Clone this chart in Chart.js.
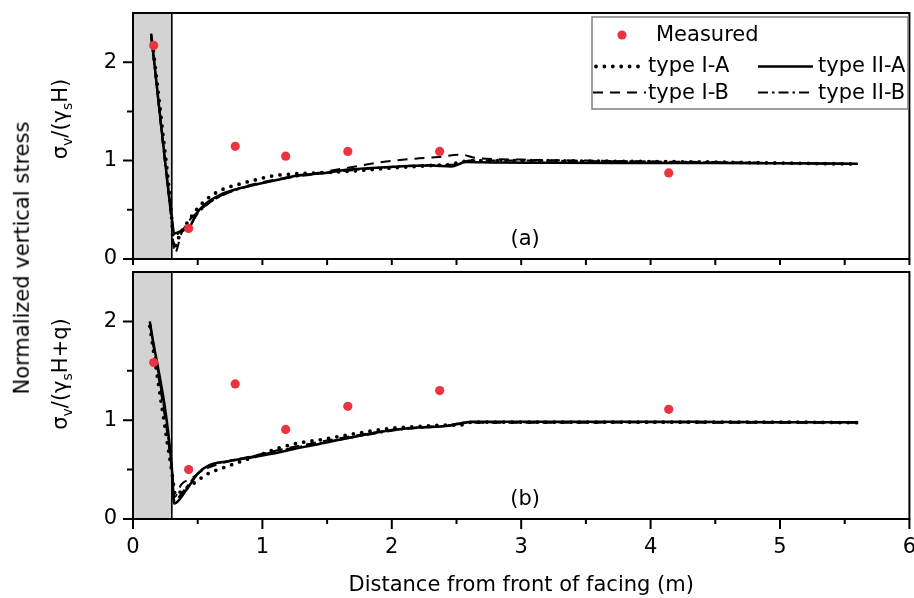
<!DOCTYPE html>
<html><head><meta charset="utf-8">
<script src="https://cdn.jsdelivr.net/npm/chart.js@4.4.1/dist/chart.umd.min.js"></script>
<style>
html,body{margin:0;padding:0;background:#fff;}
#wrap{position:relative;width:914px;height:598px;overflow:hidden;background:#fff;}
canvas{position:absolute;left:0;}
.vlab{position:absolute;white-space:nowrap;font-family:"DejaVu Sans";font-size:21px;color:#000;line-height:1.164;transform:translate(-50%,-50%) rotate(-90deg);}
.vlab sub{font-size:14px;vertical-align:baseline;position:relative;top:5px;line-height:0;}
</style></head><body>
<div id="wrap">
<canvas id="cTop" width="914" height="266" style="top:0;width:914px;height:266px"></canvas>
<canvas id="cBot" width="914" height="332" style="top:266px;width:914px;height:332px"></canvas>
<div class="vlab" style="left:21.7px;top:258px">Normalized vertical stress</div>
<div class="vlab" style="left:60px;top:119px">σ<sub>v</sub>/(γ<sub>s</sub>H)</div>
<div class="vlab" style="left:60px;top:374px">σ<sub>v</sub>/(γ<sub>s</sub>H+q)</div>
</div>
<script>
// ---------- data ----------
const xTickValues = [0, 1, 2, 3, 4, 5, 6];
const xMinorTicks = [0.5, 1.5, 2.5, 3.5, 4.5, 5.5];
const yTickValues = [0, 1, 2];
const yMinorTicks = [0.5, 1.5];
const facingZone = [0, 0.3];
const panelLabels = ['(a)', '(b)'];
const seriesNames = ['Measured', 'type I-A', 'type I-B', 'type II-A', 'type II-B'];

const measuredX = [0.16, 0.43, 0.79, 1.18, 1.66, 2.37, 4.14];
const measuredA = [2.17, 0.31, 1.145, 1.045, 1.093, 1.093, 0.875];
const measuredB = [1.584, 0.50, 1.367, 0.907, 1.14, 1.30, 1.11];

// panel (a)
const aIAx = [0.15, 0.22, 0.30, 0.315, 0.34, 0.38, 0.425, 0.49, 0.567, 0.68, 0.81, 0.95, 1.08, 1.25, 1.44, 1.7, 2.0, 2.3, 2.45, 2.55, 2.7, 3.0, 3.5, 4.0, 4.5, 5.0, 5.6];
const aIAy = [2.20, 1.40, 0.40, 0.11, 0.18, 0.29, 0.38, 0.50, 0.606, 0.70, 0.757, 0.805, 0.845, 0.865, 0.875, 0.895, 0.925, 0.95, 0.96, 0.99, 1.0, 1.0, 0.995, 0.99, 0.985, 0.975, 0.965];
const aIBx = [0.14, 0.30, 0.323, 0.374, 0.44, 0.52, 0.65, 0.8, 1.0, 1.2, 1.45, 1.695, 1.925, 2.18, 2.36, 2.54, 2.64, 3.0, 3.5, 4.0, 4.5, 5.0, 5.6];
const aIBy = [2.27, 0.35, 0.06, 0.26, 0.40, 0.50, 0.62, 0.71, 0.78, 0.83, 0.88, 0.935, 0.986, 1.02, 1.036, 1.06, 1.03, 1.01, 1.0, 0.99, 0.98, 0.975, 0.965];
const aIIAx = [0.14, 0.30, 0.318, 0.38, 0.436, 0.49, 0.55, 0.67, 0.80, 0.925, 1.1, 1.285, 1.44, 1.67, 2.05, 2.3, 2.46, 2.57, 2.8, 3.2, 3.75, 4.5, 5.0, 5.6];
const aIIAy = [2.29, 0.42, 0.26, 0.29, 0.32, 0.46, 0.55, 0.65, 0.71, 0.75, 0.80, 0.85, 0.868, 0.909, 0.94, 0.95, 0.94, 0.985, 0.98, 0.978, 0.976, 0.975, 0.972, 0.968];
const aIIBx = [0.14, 0.30, 0.32, 0.38, 0.44, 0.5, 0.6, 0.75, 0.9, 1.1, 1.3, 1.6, 2.0, 2.3, 2.5, 2.6, 3.0, 3.5, 4.0, 4.5, 5.0, 5.6];
const aIIBy = [2.28, 0.40, 0.24, 0.29, 0.34, 0.46, 0.58, 0.68, 0.74, 0.80, 0.845, 0.89, 0.935, 0.955, 0.96, 1.0, 1.0, 0.995, 0.99, 0.985, 0.975, 0.965];

// panel (b)
const bIAx = [0.13, 0.30, 0.33, 0.35, 0.41, 0.49, 0.567, 0.72, 0.85, 0.977, 1.13, 1.285, 1.44, 1.7, 2.0, 2.2, 2.4, 2.52, 2.62, 3.0, 3.5, 4.0, 4.5, 5.0, 5.6];
const bIAy = [1.95, 0.48, 0.24, 0.26, 0.31, 0.38, 0.45, 0.53, 0.59, 0.647, 0.72, 0.77, 0.80, 0.86, 0.918, 0.935, 0.95, 0.95, 0.98, 0.98, 0.98, 0.98, 0.98, 0.98, 0.975];
const bIBx = [0.13, 0.30, 0.32, 0.374, 0.45, 0.55, 0.7, 0.9, 1.1, 1.4, 1.7, 2.0, 2.3, 2.45, 2.6, 3.0, 3.5, 4.0, 4.5, 5.0, 5.6];
const bIBy = [1.98, 0.50, 0.22, 0.35, 0.41, 0.50, 0.57, 0.63, 0.69, 0.77, 0.84, 0.90, 0.935, 0.945, 0.975, 0.975, 0.975, 0.98, 0.975, 0.975, 0.975];
const bIIAx = [0.13, 0.30, 0.318, 0.41, 0.50, 0.59, 0.746, 0.9, 1.05, 1.285, 1.44, 1.7, 2.0, 2.2, 2.44, 2.62, 3.0, 3.5, 4.0, 4.5, 5.0, 5.6];
const bIIAy = [2.0, 0.52, 0.156, 0.29, 0.46, 0.545, 0.586, 0.62, 0.655, 0.72, 0.76, 0.83, 0.90, 0.925, 0.944, 0.985, 0.985, 0.985, 0.985, 0.983, 0.98, 0.98];
const bIIBx = [0.13, 0.30, 0.32, 0.40, 0.48, 0.58, 0.75, 0.95, 1.2, 1.5, 1.8, 2.1, 2.4, 2.6, 3.0, 3.5, 4.0, 4.5, 5.0, 5.6];
const bIIBy = [1.99, 0.51, 0.19, 0.30, 0.43, 0.53, 0.59, 0.64, 0.71, 0.78, 0.85, 0.91, 0.94, 0.98, 0.98, 0.98, 0.98, 0.98, 0.978, 0.978];

// ---------- styling ----------
const FONT = '"DejaVu Sans"';
const RED = '#ec3340';
Chart.defaults.font.family = FONT;
Chart.defaults.color = '#000';

function pts(xs, ys) { return xs.map((x, i) => ({ x: x, y: ys[i] })); }

const lineStyles = {
  'type I-A': { borderWidth: 3.8, borderDash: [0, 8.4], borderCapStyle: 'round' },
  'type I-B': { borderWidth: 2, borderDash: [10, 7], borderCapStyle: 'butt' },
  'type II-A': { borderWidth: 2.5, borderDash: [], borderCapStyle: 'butt' },
  'type II-B': { borderWidth: 2, borderDash: [10, 4, 2.5, 4], borderCapStyle: 'butt' }
};

function makeDatasets(meas, series) {
  const ds = [{
    label: seriesNames[0], data: pts(measuredX, meas), showLine: false,
    pointRadius: 4.6, pointBackgroundColor: RED, pointBorderWidth: 0,
    borderColor: RED, backgroundColor: RED
  }];
  series.forEach((s, i) => {
    const name = seriesNames[i + 1];
    const st = lineStyles[name];
    ds.push({
      label: name, data: pts(s[0], s[1]), showLine: true, pointRadius: 0,
      borderColor: '#000', backgroundColor: '#000', fill: false,
      borderWidth: st.borderWidth, borderDash: st.borderDash, borderCapStyle: st.borderCapStyle,
      borderJoinStyle: 'round', cubicInterpolationMode: 'monotone'
    });
  });
  return ds;
}

function drawLegend(chart) {
  const ctx = chart.ctx;
  const ds = chart.data.datasets;
  ctx.save();
  ctx.fillStyle = '#fff';
  ctx.fillRect(592, 17, 316, 92);
  ctx.strokeStyle = '#808080';
  ctx.lineWidth = 1.5;
  ctx.strokeRect(592, 17, 316, 92);
  ctx.font = '21px ' + FONT;
  ctx.fillStyle = '#000';
  ctx.textBaseline = 'middle';
  ctx.textAlign = 'left';
  ctx.beginPath();
  ctx.fillStyle = RED;
  ctx.arc(622, 35, 4.6, 0, Math.PI * 2);
  ctx.fill();
  ctx.fillStyle = '#000';
  ctx.fillText(ds[0].label, 656, 36);
  const items = [
    { i: 1, x0: 596, x1: 641, y: 66.5, tx: 648, ty: 66.3 },
    { i: 2, x0: 593, x1: 646, y: 92.5, tx: 648, ty: 94 },
    { i: 3, x0: 758, x1: 813, y: 66.5, tx: 818, ty: 66.3 },
    { i: 4, x0: 758, x1: 813, y: 92.5, tx: 818, ty: 94 }
  ];
  items.forEach(it => {
    const d = ds[it.i];
    ctx.save();
    ctx.strokeStyle = '#000';
    ctx.lineWidth = d.borderWidth;
    ctx.setLineDash(d.borderDash);
    ctx.lineCap = d.borderCapStyle;
    ctx.beginPath();
    ctx.moveTo(it.x0, it.y);
    ctx.lineTo(it.x1, it.y);
    ctx.stroke();
    ctx.restore();
    ctx.fillText(d.label, it.tx, it.ty);
  });
  ctx.restore();
}

function panelPlugin(idx, isBottom) {
  return {
    id: 'panel' + idx,
    beforeDatasetsDraw(chart) {
      const { ctx, chartArea: a, scales: { x } } = chart;
      const x0 = x.getPixelForValue(facingZone[0]);
      const x1 = x.getPixelForValue(facingZone[1]);
      ctx.save();
      ctx.fillStyle = '#d3d3d3';
      ctx.fillRect(x0, a.top, x1 - x0, a.bottom - a.top);
      ctx.strokeStyle = '#000';
      ctx.lineWidth = 1.6;
      ctx.beginPath();
      ctx.moveTo(x1, a.top);
      ctx.lineTo(x1, a.bottom);
      ctx.stroke();
      ctx.restore();
    },
    afterDraw(chart) {
      const { ctx, chartArea: a, scales: { x, y } } = chart;
      ctx.save();
      ctx.strokeStyle = '#000';
      ctx.lineWidth = 2;
      ctx.strokeRect(a.left, a.top, a.right - a.left, a.bottom - a.top);
      ctx.beginPath();
      yTickValues.forEach(v => { const p = y.getPixelForValue(v); ctx.moveTo(a.left - 10, p); ctx.lineTo(a.left, p); });
      yMinorTicks.forEach(v => { const p = y.getPixelForValue(v); ctx.moveTo(a.left - 6, p); ctx.lineTo(a.left, p); });
      const maj = isBottom ? 10 : 6, mnr = isBottom ? 5 : 6;
      xTickValues.forEach(v => { const p = x.getPixelForValue(v); ctx.moveTo(p, a.bottom); ctx.lineTo(p, a.bottom + maj); });
      xMinorTicks.forEach(v => { const p = x.getPixelForValue(v); ctx.moveTo(p, a.bottom); ctx.lineTo(p, a.bottom + mnr); });
      ctx.stroke();
      ctx.font = '21px ' + FONT;
      ctx.fillStyle = '#000';
      ctx.textAlign = 'center';
      ctx.textBaseline = 'middle';
      ctx.fillText(panelLabels[idx], x.getPixelForValue(3.03), y.getPixelForValue(0.2));
      ctx.restore();
      if (!isBottom) drawLegend(chart);
    }
  };
}

function scalesCfg(isBottom) {
  return {
    x: {
      type: 'linear', min: 0, max: 6,
      afterBuildTicks: s => { s.ticks = xTickValues.map(v => ({ value: v })); },
      grid: { display: false, drawTicks: true, tickLength: 10 },
      border: { display: false },
      ticks: { display: isBottom, font: { size: 21 }, color: '#000', padding: 6, maxRotation: 0, autoSkip: false },
      title: { display: isBottom, text: 'Distance from front of facing (m)', font: { size: 21 }, color: '#000', padding: { top: 0, bottom: 0 } },
      afterFit: s => { s.height = isBottom ? 79 : 7; s.paddingLeft = 0; s.paddingRight = 0; }
    },
    y: {
      type: 'linear', min: 0, max: 2.5,
      afterBuildTicks: s => { s.ticks = yTickValues.map(v => ({ value: v })); },
      grid: { display: false, drawTicks: true, tickLength: 10 },
      border: { display: false },
      ticks: { font: { size: 21 }, color: '#000', padding: 6 },
      afterFit: s => { s.width = 133; s.paddingTop = 0; s.paddingBottom = 0; }
    }
  };
}

function makeChart(id, idx, meas, series, isBottom) {
  return new Chart(document.getElementById(id), {
    type: 'scatter',
    data: { datasets: makeDatasets(meas, series) },
    options: {
      responsive: false, animation: false, events: [], devicePixelRatio: 1,
      layout: { padding: { top: isBottom ? 6 : 13, right: 1, left: 0, bottom: 0 } },
      plugins: { legend: { display: false }, tooltip: { enabled: false }, title: { display: false } },
      scales: scalesCfg(isBottom)
    },
    plugins: [panelPlugin(idx, isBottom)]
  });
}

makeChart('cTop', 0, measuredA, [[aIAx, aIAy], [aIBx, aIBy], [aIIAx, aIIAy], [aIIBx, aIIBy]], false);
makeChart('cBot', 1, measuredB, [[bIAx, bIAy], [bIBx, bIBy], [bIIAx, bIIAy], [bIIBx, bIIBy]], true);
</script>
</body></html>
